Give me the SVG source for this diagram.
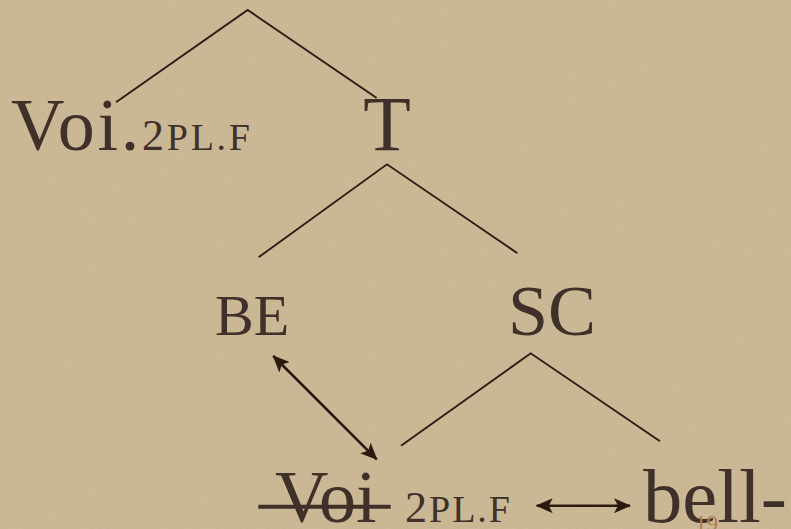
<svg xmlns="http://www.w3.org/2000/svg" width="791" height="529" viewBox="0 0 791 529">
  <defs>
    <filter id="grain" x="0" y="0" width="100%" height="100%">
      <feTurbulence type="fractalNoise" baseFrequency="0.85" numOctaves="3" seed="7"/>
      <feColorMatrix type="saturate" values="0"/>
    </filter>
    <marker id="ah" viewBox="0 0 17 15" refX="16" refY="7.5" markerWidth="17" markerHeight="15" markerUnits="userSpaceOnUse" orient="auto-start-reverse">
      <path d="M0,0 L17,7.5 L0,15 L4,7.5 Z" fill="#2a1a10"/>
    </marker>
    <style>
      .lbl { font-family: "Liberation Serif", "Times New Roman", serif; fill: #3f3129; }
      .big { font-size: 72px; }
      .edge { stroke: #2b1c14; stroke-width: 1.9; fill: none; stroke-linecap: round; }
      .arr { stroke: #2a1a10; stroke-width: 2.6; fill: none; }
    </style>
  </defs>
  <rect width="791" height="529" fill="#cbb792"/>
  <rect width="791" height="529" filter="url(#grain)" opacity="0.14"/>

  <g id="connectors">
    <path class="edge" d="M116.7,101.7 L247.7,10 L376,97.5"/>
    <path class="edge" d="M259.3,256.7 L387,164.3 L516.7,252.7"/>
    <path class="edge" d="M401.7,445.3 L530.7,353.3 L659.3,440.7"/>
    <line class="arr" x1="273.3" y1="356" x2="376.7" y2="459.3" marker-start="url(#ah)" marker-end="url(#ah)"/>
    <line class="arr" x1="536.7" y1="505.7" x2="630" y2="505.7" marker-start="url(#ah)" marker-end="url(#ah)"/>
  </g>

  <g id="node-voi-top">
    <text class="lbl" x="11" y="150" textLength="239" lengthAdjust="spacing"><tspan font-size="74">Voi.</tspan><tspan font-size="44">2</tspan><tspan font-size="38">PL.F</tspan></text>
  </g>
  <g id="node-T">
    <text class="lbl" x="387" y="150" text-anchor="middle" font-size="78">T</text>
  </g>
  <g id="node-BE">
    <text class="lbl" x="215" y="335" font-size="58">BE</text>
  </g>
  <g id="node-SC">
    <text class="lbl big" x="508" y="335">SC</text>
  </g>
  <g id="node-voi-bottom">
    <text class="lbl" x="275" y="521.7"><tspan font-size="74">Voi</tspan></text>
    <line x1="258.3" y1="506.7" x2="390.7" y2="506.7" stroke="#3f3129" stroke-width="4"/>
    <text class="lbl" x="405" y="521.7" textLength="105" lengthAdjust="spacing"><tspan font-size="44">2</tspan><tspan font-size="38">PL.F</tspan></text>
  </g>
  <g id="node-bell">
    <text class="lbl" x="643" y="521.7" font-size="76" textLength="144" lengthAdjust="spacingAndGlyphs">bell-</text>
  </g>
  <g id="page-number">
    <text x="695" y="531" font-family="Liberation Serif, serif" font-size="23" fill="#b0804f">19</text>
  </g>
</svg>
